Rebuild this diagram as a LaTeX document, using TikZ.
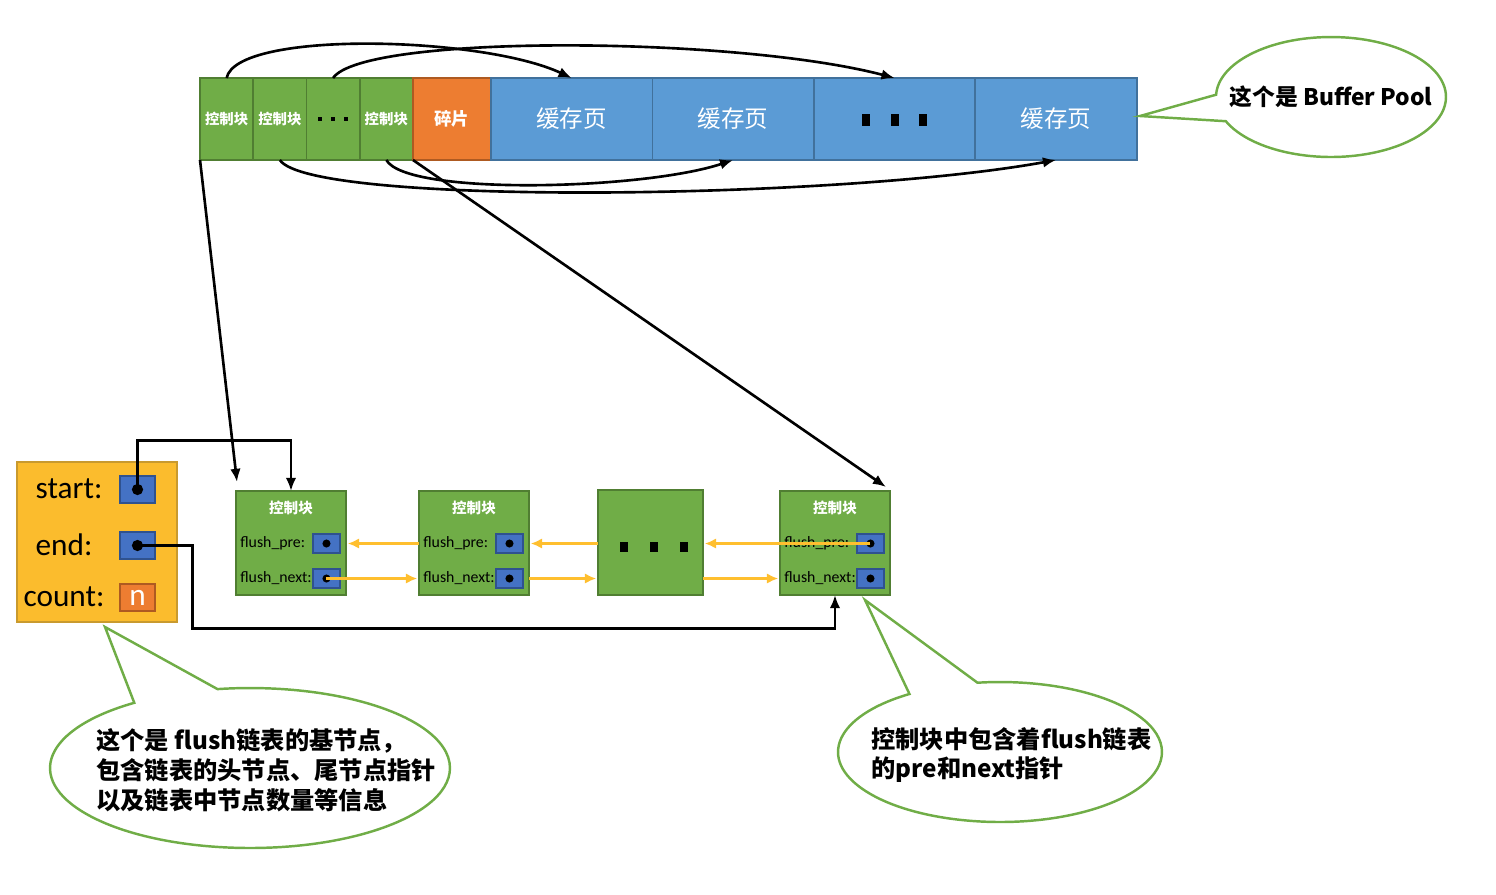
\documentclass[tikz,border=0pt]{standalone}
\usepackage{fontspec}
\setmainfont{Noto Sans CJK SC}
\newfontfamily\latinfont{Carlito}
\usetikzlibrary{arrows.meta,positioning,shapes.callouts,calc}

\definecolor{ctrlgreen}{HTML}{70AD47}
\definecolor{ctrlborder}{HTML}{507E32}
\definecolor{fragorange}{HTML}{ED7D31}
\definecolor{fragborder}{HTML}{AE5A21}
\definecolor{pageblue}{HTML}{5B9BD5}
\definecolor{pageborder}{HTML}{41719C}
\definecolor{ptrblue}{HTML}{4472C4}
\definecolor{ptrborder}{HTML}{2F528F}
\definecolor{baseyellow}{HTML}{FBBC2D}
\definecolor{baseborder}{HTML}{C99A2E}
\definecolor{linkyellow}{HTML}{FFBF2F}
\definecolor{notegreen}{HTML}{70AD47}

\begin{document}
\begin{tikzpicture}[x=0.02cm,y=-0.02cm,
      cell/.style={draw,line width=1pt,outer sep=0pt,inner sep=0pt,minimum height=1.64cm,text=white},
      ctrlcell/.style={cell,fill=ctrlgreen,draw=ctrlborder,minimum width=1.065cm,font=\fontsize{8.2}{9}\selectfont\bfseries},
      fragcell/.style={cell,fill=fragorange,draw=fragborder,minimum width=1.56cm,font=\fontsize{10}{11}\selectfont\bfseries},
      pagecell/.style={cell,fill=pageblue,draw=pageborder,minimum width=3.23cm,font=\fontsize{13.4}{15}\selectfont},
      ctrlblock/.style={draw=ctrlborder,fill=ctrlgreen,line width=1pt,outer sep=0pt,inner sep=0pt,minimum width=2.2cm,minimum height=2.08cm},
      blocktitle/.style={text=white,inner sep=0pt,font=\fontsize{8.3}{9}\selectfont\bfseries},
      fieldlabel/.style={anchor=west,inner sep=0pt,font=\latinfont\fontsize{9}{10}\selectfont},
      ptr/.style={draw=ptrborder,fill=ptrblue,line width=1pt,inner sep=0pt,minimum width=#1,minimum height=0.38cm,
        path picture={\fill[black] (path picture bounding box.center) circle (2.3pt);}},
      ptr/.default=0.54cm,
      bigptr/.style={ptr=0.7cm,minimum height=0.54cm,
        path picture={\fill[black] (path picture bounding box.center) circle (3.2pt);}},
      basebox/.style={draw=baseborder,fill=baseyellow,line width=1.1pt,outer sep=0pt,minimum width=3.2cm,minimum height=3.2cm},
      baselabel/.style={inner sep=0pt,font=\latinfont\fontsize{17.8}{19}\selectfont},
      countbox/.style={draw=fragborder,fill=fragorange,line width=1pt,inner sep=0pt,minimum width=0.7cm,minimum height=0.54cm,
        text=white,font=\latinfont\fontsize{17.8}{19}\selectfont},
      note/.style={ellipse callout,draw=notegreen,line width=1.4pt,callout pointer arc=26},
      notetext/.style={align=left,inner sep=0pt,font=\fontsize{13.8}{17}\selectfont\bfseries},
      arr/.style={-{Latex[length=7.5pt,width=6pt]},line width=1.5pt},
      link/.style={-{Latex[length=6.5pt,width=6pt]},line width=1.4pt,draw=linkyellow,shorten >=1pt}
    ]
  \useasboundingbox (0,0) rectangle (1496,894);

  % buffer pool
  \node[ctrlcell,anchor=north west] (c1) at (200,78) {控制块};
  \node[ctrlcell,right=0pt of c1] (c2) {控制块};
  \node[ctrlcell,right=0pt of c2] (c3) {};
  \node[ctrlcell,right=0pt of c3] (c4) {控制块};
  \node[fragcell,right=0pt of c4] (frag) {碎片};
  \node[pagecell,right=0pt of frag] (p1) {缓存页};
  \node[pagecell,right=0pt of p1] (p2) {缓存页};
  \node[pagecell,right=0pt of p2] (p3) {};
  \node[pagecell,right=0pt of p3] (p4) {缓存页};
  \foreach \dx in {-13,0,13}
    \fill ($(c3.center)+(\dx,0)$) +(-1.8,-1.8) rectangle +(1.8,1.8);
  \foreach \dx in {-28.5,0,28.5}
    \fill ($(p3.center)+(\dx,1)$) +(-4,-6) rectangle +(4,6);

  \draw[arr] (c1.north) .. controls +(10,-48) and +(-90,-42) .. (p1.north);
  \draw[arr] (c3.north) .. controls +(30,-44) and +(-160,-42) .. (p3.north);
  \draw[arr] (c4.south) .. controls +(20,36) and +(-90,30) .. (p2.south);
  \draw[arr] (c2.south) .. controls +(30,46) and +(-220,40) .. (p4.south);

  % flush list
  \node[basebox,anchor=north west] (base) at (17,462) {};
  \node[baselabel] (startlabel) at (69,489) {start:};
  \node[baselabel] (endlabel) at (64,545) {end:};
  \node[baselabel] (countlabel) at (64,597) {count:};
  \node[bigptr] (sp) at (137.5,489.5) {};
  \node[bigptr] (ep) at (137.5,545.5) {};
  \node[countbox] (cnt) at (137.5,597.5) {n};

  \foreach \n/\x in {cba/236,cbb/419,cbc/780}{
    \node[ctrlblock,anchor=north west] (\n) at (\x,491) {};
    \node[blocktitle] (\n-title) at ($(\n.north)+(0,17)$) {控制块};
    \node[ptr] (\n-pre) at ($(\n.north east)+(-19.5,52.5)$) {};
    \node[ptr] (\n-next) at ($(\n.north east)+(-19.5,87.5)$) {};
    \node[fieldlabel] (\n-prelabel) at ($(\n.north west)+(4,52)$) {flush\_pre:};
    \node[fieldlabel] (\n-nextlabel) at ($(\n.north west)+(4,87)$) {flush\_next:};
  }
  \node[ctrlblock,minimum width=2.1cm,minimum height=2.1cm,anchor=north west] (cbdots) at (598,490) {};
  \foreach \dx in {-30,0,30}
    \fill ($(cbdots.center)+(\dx+3.5,4.5)$) +(-4,-5) rectangle +(4,5);

  \draw[link] (cba-next.center) -- (cbb.west |- cba-next.center);
  \draw[link] (cbb.west |- cbb-pre.center) -- (cba.east |- cbb-pre.center);
  \draw[link] (cbb.east |- cbb-next.center) -- (cbdots.west |- cbb-next.center);
  \draw[link] (cbdots.west |- cbb-pre.center) -- (cbb.east |- cbb-pre.center);
  \draw[link] (cbdots.east |- cbc-next.center) -- (cbc.west |- cbc-next.center);
  \draw[link] (cbc-pre.center) -- (cbdots.east |- cbc-pre.center);

  \draw[arr] (sp.center) -- ++(0,-49) -| (cba.north);
  \draw[arr] (ep.center) -- ++(55,0) -- ++(0,83) -| (cbc.south);
  \draw[arr] (c1.south west) -- ($(cba.north west)+(1,-9)$);
  \draw[arr] (c4.south east) -- ($(cbc.north east)+(-4,-4)$);

  % notes
  \node[note,minimum width=4.6cm,minimum height=2.4cm,callout absolute pointer={(1140,116)}] (bpnote) at (1331,97) {};
  \node[notetext,font=\fontsize{13}{16}\selectfont\bfseries] (bptext) at (bpnote.center) {这个是 Buffer Pool};
  \node[note,minimum width=8cm,minimum height=3.2cm,callout absolute pointer={(105,627)}] (basenote) at (250,768) {};
  \node[notetext,anchor=west] (basetext) at (96,770) {这个是 flush链表的基节点，\\包含链表的头节点、尾节点指针\\以及链表中节点数量等信息};
  \node[note,minimum width=6.48cm,minimum height=2.8cm,callout absolute pointer={(865,600)}] (blocknote) at (1000,752) {};
  \node[notetext,anchor=west] (blocktext) at (871,755) {控制块中包含着flush链表\\的pre和next指针};
\end{tikzpicture}
\end{document}
